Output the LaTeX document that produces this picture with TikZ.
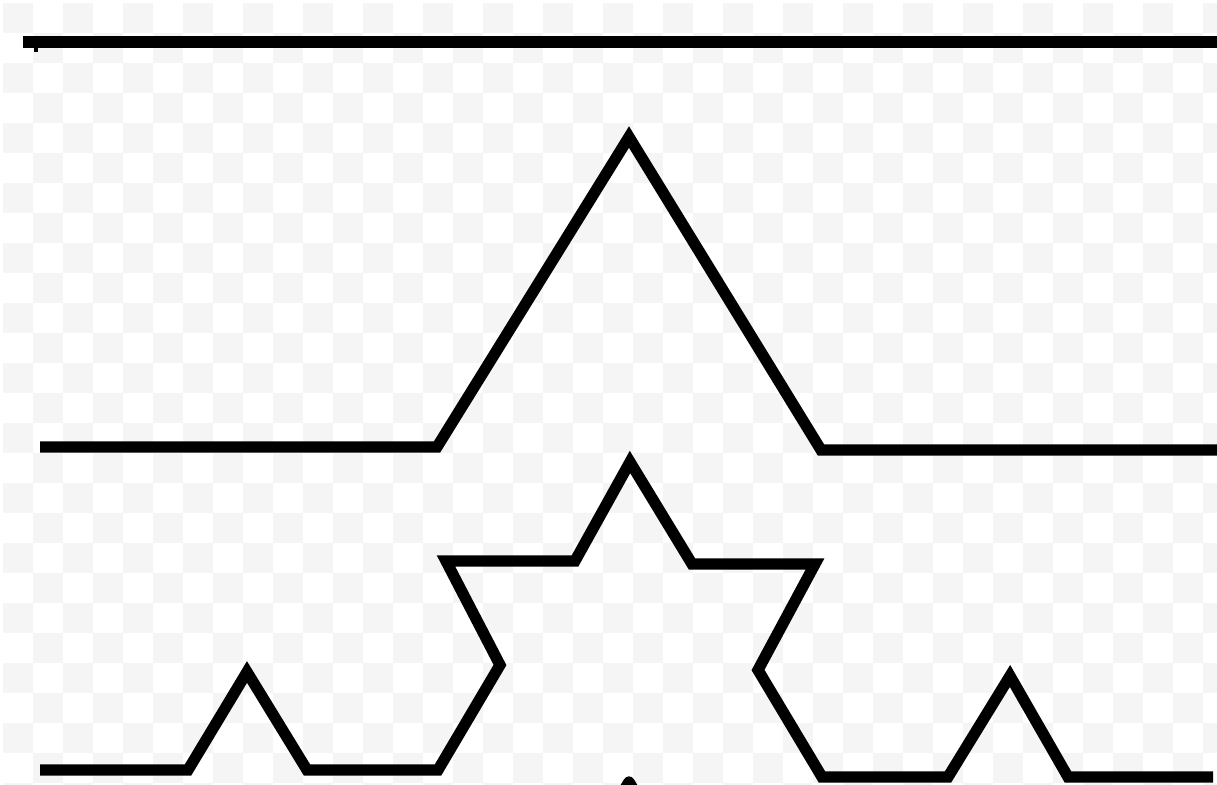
\documentclass[tikz,border=0pt]{standalone}
\usepackage{tikz}
\usetikzlibrary{calc}

\begin{document}
\begin{tikzpicture}[
    x=0.01cm, y=-0.01cm,
    koch/.style={draw=black, line width=3.2pt, line join=miter},
    checker/.style={fill=black!4}
]
    \useasboundingbox (0,0) rectangle (1217,785);
    \clip (0,0) rectangle (1217,785);

    % faint checker background
    \foreach \i in {0,...,40}{
        \foreach \j in {0,...,26}{
            \pgfmathtruncatemacro{\chk}{mod(\i+\j,2)}
            \ifnum\chk=0 \fill[checker] (\i*30+3,\j*30+3) rectangle ++(30,30); \fi
        }
    }

    % Level 0
    \draw[koch] (23,42) -- (1230,42);
    \draw[line width=1pt] (36,42) -- (36,52);

    % Level 1
    \draw[koch] (40,447) -- (437,447) -- (629,137) -- (821,450) -- (1230,450);

    % Level 2
    \draw[koch] (40,770) -- (188,770) -- (247,672) -- (307,770) -- (438,770)
        -- (500,665) -- (446,561) -- (575,561) -- (630,462) -- (692,564)
        -- (815,564) -- (758,670) -- (822,777) -- (948,777) -- (1010,676)
        -- (1068,777) -- (1213,777);

    % Level 3 (top, cut off)
    \draw[koch, line join=round] (600,830) -- (629,782) -- (658,830);
\end{tikzpicture}
\end{document}
